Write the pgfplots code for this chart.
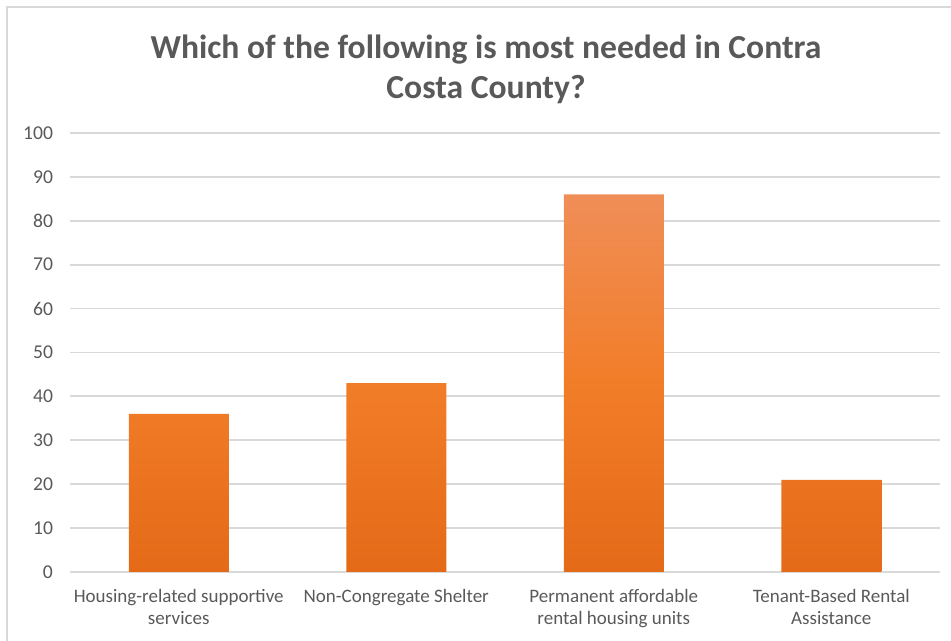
\documentclass[border=0pt]{standalone}
\usepackage{pgfplots}
\pgfplotsset{compat=1.18}
\usepackage{fontspec}
\setmainfont{Carlito}
\definecolor{txt}{RGB}{89,89,89}
\definecolor{gridc}{RGB}{217,217,217}
\definecolor{bartop}{RGB}{240,142,88}
\definecolor{barmid}{RGB}{242,125,40}
\definecolor{barbot}{RGB}{228,106,24}
\begin{document}
\begin{tikzpicture}[x=1pt,y=1pt]
\path[use as bounding box] (0,0) rectangle (475.5,320.5);
\draw[gridc, line width=1pt] (3.5,0) -- (3.5,317) -- (475.5,317);
\node[txt, font=\fontsize{16.8}{20}\selectfont\bfseries, align=center] at (243,286) {Which of the following is most needed in Contra\\Costa County?};
\begin{axis}[
  at={(35pt,34.5pt)}, anchor=south west,
  scale only axis, width=435pt, height=219.5pt,
  xmin=-0.5, xmax=3.5, ymin=0, ymax=100,
  ytick={0,10,...,100},
  xtick=data,
  xticklabels={{Housing-related supportive\\services},{Non-Congregate Shelter},{Permanent affordable\\rental housing units},{Tenant-Based Rental\\Assistance}},
  xticklabel style={align=center, font=\fontsize{9.5}{11}\selectfont, text=txt, yshift=-5pt},
  yticklabel style={font=\fontsize{9.8}{10}\selectfont, text=txt, xshift=-5pt},
  /pgf/number format/assume math mode=true,
  major tick length=0pt,
  axis line style={draw=none},
  ymajorgrids, xmajorgrids=false, grid style={gridc, line width=0.9pt},
  ybar, bar width=50pt,
]
\addplot[ybar, draw=none, top color=bartop, bottom color=barbot, middle color=barmid] coordinates {(0,36) (1,43) (2,86) (3,21)};
\end{axis}
\end{tikzpicture}
\end{document}
